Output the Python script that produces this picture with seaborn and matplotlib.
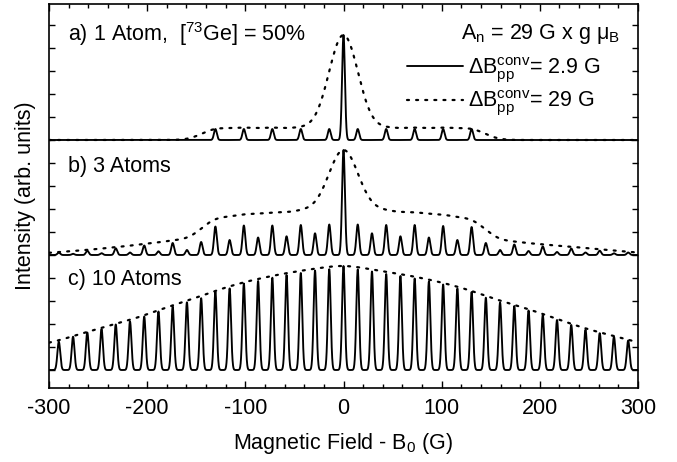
import numpy as np
import pandas as pd
import matplotlib
matplotlib.use("Agg")
import matplotlib.pyplot as plt
import seaborn as sns
from matplotlib.ticker import MultipleLocator

# Hyperfine constant and the two convolution widths (G)
A_N = 29.0
DBPP_NARROW = 2.9
DBPP_BROAD = 29.0

# a) one atom: unsplit central line plus the ten 73Ge hyperfine lines
pos_1atom = [-130.5, -101.5, -72.5, -43.5, -14.5, 0.0, 14.5, 43.5, 72.5, 101.5, 130.5]
amp_1atom = [11, 11, 11, 11, 11, 105, 11, 11, 11, 11, 11]

# b) three atoms: lines at index * A_N/2, index -22 .. 22
idx_3atoms = np.arange(-22, 23)
amp_3atoms = [0.8, 0.6, 2.3, 1.2, 4.3, 1.8, 6.7, 2.5, 9.5, 3.7, 12.0, 5.0,
              13.0, 28.5, 15.0, 29.5, 17.5, 29.5, 18.7, 30.0, 21.7, 30.5,
              105.0,
              30.5, 21.7, 30.0, 18.7, 30.0, 17.5, 29.0, 15.0, 28.0, 12.0,
              5.0, 10.5, 4.0, 8.5, 3.0, 6.5, 2.5, 4.3, 1.7, 2.5, 0.6, 0.8]

# c) ten atoms: lines at index * A_N/2, index -24 .. 24
idx_10atoms = np.arange(-24, 25)
amp_10atoms = [16.5, 19.5, 22.5, 26.0, 28.3, 33.3, 37.5, 41.0, 45.5, 48.5,
               53.5, 58.5, 63.5, 67.7, 71.8, 78.3, 81.6, 86.5, 89.0, 92.3,
               95.0, 97.0, 99.5, 100.8,
               104.0,
               100.5, 98.5, 96.0, 94.0, 91.5, 88.5, 85.5, 81.5, 78.0, 72.3,
               67.5, 64.0, 59.5, 55.0, 50.0, 45.0, 40.3, 36.8, 33.3, 29.5,
               26.0, 22.5, 19.5, 16.5]

panel_labels = ["a) 1 Atom,  [$^{73}$Ge] = 50%", "b) 3 Atoms", "c) 10 Atoms"]
coupling_label = "A$_\\mathregular{n}$ = 29 G x g $\\mu_\\mathregular{B}$"
legend_labels = ["$\\Delta$B$_{pp}^{conv}$= 2.9 G", "$\\Delta$B$_{pp}^{conv}$= 29 G"]
xlabel = "Magnetic Field - B$_0$ (G)"
ylabel = "Intensity (arb. units)"

# vertical stacking of the three spectra and placement of the panel labels
offsets = [230, 115, 0]
label_y = [329, 198, 85]


def spectrum(field, centers, amps, dbpp):
    """Sum of Gaussian lines; dbpp is the derivative peak-to-peak width."""
    sigma = dbpp / 2.0
    c = np.asarray(centers, float)[:, None]
    a = np.asarray(amps, float)[:, None]
    return (a * np.exp(-0.5 * ((field[None, :] - c) / sigma) ** 2)).sum(axis=0)


sns.set_style("ticks")
plt.rcParams["font.family"] = ["Liberation Sans", "DejaVu Sans"]
plt.rcParams["mathtext.fontset"] = "custom"
plt.rcParams["mathtext.rm"] = "Liberation Sans"
plt.rcParams["mathtext.it"] = "Liberation Sans"
plt.rcParams["mathtext.bf"] = "Liberation Sans:bold"
plt.rcParams["mathtext.default"] = "regular"
plt.rcParams["axes.unicode_minus"] = False
for key in ["text.color", "axes.labelcolor", "xtick.color", "ytick.color",
            "axes.edgecolor"]:
    plt.rcParams[key] = "black"

FS = 15.5

fig = plt.figure(figsize=(6.77, 4.62), dpi=100)
ax = fig.add_axes([49 / 677, 1 - 388 / 462, 589 / 677, 384 / 462])

field = np.linspace(-300, 300, 6001)
panels = [
    (pos_1atom, amp_1atom),
    (idx_3atoms * A_N / 2, amp_3atoms),
    (idx_10atoms * A_N / 2, amp_10atoms),
]

handles = []
for (centers, amps), off in zip(panels, offsets):
    narrow = spectrum(field, centers, amps, DBPP_NARROW)
    broad = spectrum(field, centers, amps, DBPP_BROAD)
    broad = broad * narrow.max() / broad.max()
    df = pd.DataFrame({"field": field, "narrow": narrow + off, "broad": broad + off})
    sns.lineplot(data=df, x="field", y="narrow", ax=ax, color="black",
                 lw=1.35, estimator=None, sort=False)
    l_solid = ax.lines[-1]
    sns.lineplot(data=df, x="field", y="broad", ax=ax, color="black",
                 lw=1.6, estimator=None, sort=False)
    l_dot = ax.lines[-1]
    l_dot.set_linestyle((0, (0.9, 3.2)))
    l_dot.set_dash_capstyle("round")
    if not handles:
        handles = [l_solid, l_dot]

ax.set_xlim(-300, 300)
ax.set_ylim(-18, 366)
ax.xaxis.set_major_locator(MultipleLocator(100))
ax.xaxis.set_minor_locator(MultipleLocator(20))
ax.yaxis.set_major_locator(MultipleLocator(23))
ax.set_yticklabels([])
ax.tick_params(axis="both", which="both", direction="in", top=True, right=True,
               width=1.0, labelsize=FS)
ax.tick_params(axis="x", which="major", length=5, pad=7)
ax.tick_params(axis="x", which="minor", length=3)
ax.tick_params(axis="y", which="major", length=4)
for s in ax.spines.values():
    s.set_linewidth(1.2)
    s.set_color("black")

ax.set_xlabel(xlabel, fontsize=FS, labelpad=9)
ax.set_ylabel(ylabel, fontsize=FS, labelpad=6)

for lab, ly in zip(panel_labels, label_y):
    ax.text(-281, ly, lab, fontsize=FS, va="baseline", ha="left")
ax.text(281.5, 331, coupling_label, fontsize=FS, va="baseline", ha="right")

ax.legend(handles=handles, labels=legend_labels, loc="upper left",
          bbox_to_anchor=(0.608, 0.866), frameon=False, fontsize=FS,
          handlelength=2.6, handletextpad=0.25, borderpad=0, borderaxespad=0,
          labelspacing=0.2)

fig.savefig("out.png", dpi=100)
